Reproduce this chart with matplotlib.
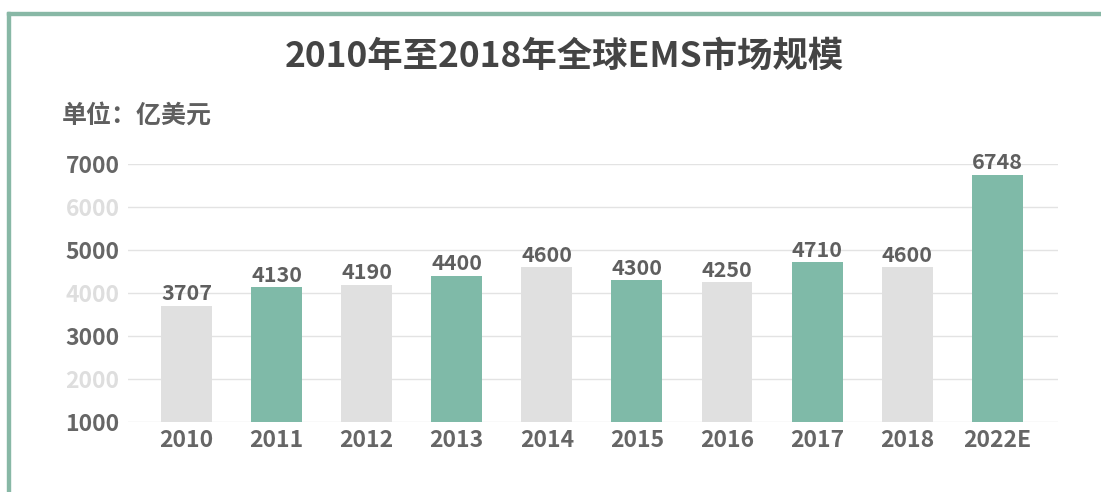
import matplotlib
matplotlib.use('Agg')
import matplotlib.pyplot as plt
from matplotlib.patches import Rectangle

plt.rcParams['font.family'] = ['Noto Sans CJK SC', 'DejaVu Sans']

# data
years = ['2010', '2011', '2012', '2013', '2014', '2015', '2016', '2017', '2018', '2022E']
market = [3707, 4130, 4190, 4400, 4600, 4300, 4250, 4710, 4600, 6748]
yticks = [1000, 2000, 3000, 4000, 5000, 6000, 7000]

green = '#7fbaa8'
grey = '#e0e0e0'
colors = [grey if i % 2 == 0 else green for i in range(len(years))]

fig = plt.figure(figsize=(11.01, 4.92), dpi=100)

# green frame on top and left
fig.patches.append(Rectangle((7/1101, 0), 3/1101, 1 - 12/492, transform=fig.transFigure,
                             color='#88b8a6', zorder=0))
fig.patches.append(Rectangle((7/1101, 1 - 15/492), 1, 3/492, transform=fig.transFigure,
                             color='#88b8a6', zorder=0))

ax = fig.add_axes([128/1101, 1 - 422/492, 930/1101, 258/492])

x = range(len(years))
ax.bar(x, market, width=0.565, color=colors, zorder=2)

for xi, v in zip(x, market):
    ax.annotate(str(v), (xi, v), xytext=(0, 1), textcoords='offset points',
                ha='center', va='bottom', fontsize=15.5, fontweight='bold',
                color='#5f5f5f', annotation_clip=False)

ax.set_xlim(-0.65, len(years) - 1 + 0.675)
ax.set_ylim(1000, 7000)
ax.set_yticks(yticks)
ax.set_yticklabels([str(t) for t in yticks])
ax.set_xticks(list(x))
ax.set_xticklabels(years)

ax.yaxis.grid(True, color='#e3e3e3', linewidth=1, zorder=0)
ax.set_axisbelow(True)
for s in ax.spines.values():
    s.set_visible(False)
ax.tick_params(axis='both', length=0, labelsize=16.5)
ax.tick_params(axis='y', pad=6)
ax.tick_params(axis='x', pad=5)

for lab in ax.get_xticklabels():
    lab.set_fontweight('bold')
    lab.set_color('#666666')
for t, lab in zip(yticks, ax.get_yticklabels()):
    lab.set_fontweight('bold')
    lab.set_color('#666666' if (t // 1000) % 2 == 1 else '#dedede')

fig.text(564/1101, 1 - 56/492, '2010年至2018年全球EMS市场规模', ha='center', va='center',
         fontsize=25.5, fontweight='bold', color='#444444')
fig.text(62/1101, 1 - 116/492, '单位：亿美元', ha='left', va='center',
         fontsize=18, fontweight='bold', color='#5f5f5f')

fig.savefig('out.png', dpi=100, facecolor='white')
